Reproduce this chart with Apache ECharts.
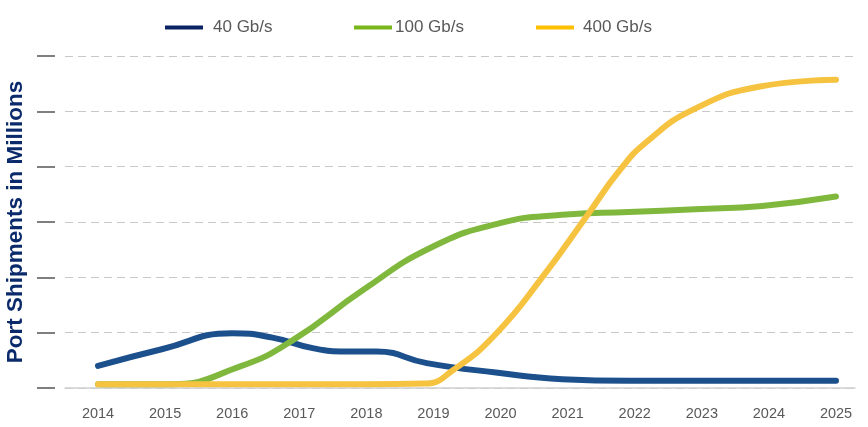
<!DOCTYPE html>
<html>
<head>
<meta charset="utf-8">
<script src="https://cdn.jsdelivr.net/npm/echarts@6/dist/echarts.min.js"></script>
<style>html,body{margin:0;padding:0;background:#fff}#c{width:868px;height:427px}</style>
</head>
<body>
<div id="c"></div>
<script>
// Tick labels (years)
const yearLabels = [2014, 2015, 2016, 2017, 2018, 2019, 2020, 2021, 2022, 2023, 2024, 2025];
const seriesNames = ['40 Gb/s', '100 Gb/s', '400 Gb/s'];

// 40 Gb/s curve (year position, millions-scale units)
const x40 = [2014.0, 2014.95, 2016.0, 2016.6, 2017.2, 2017.7, 2018.15, 2018.9, 2019.93, 2020.92, 2021.91, 2023.0, 2024.0, 2025.0];
const y40 = [0.40, 0.70, 0.99, 0.91, 0.72, 0.66, 0.66, 0.45, 0.28, 0.16, 0.13, 0.13, 0.13, 0.13];

// 100 Gb/s curve
const x100 = [2014.0, 2015.07, 2016.12, 2016.91, 2017.95, 2018.95, 2019.99, 2020.92, 2021.91, 2022.9, 2023.9, 2025.0];
const y100 = [0.07, 0.07, 0.39, 0.87, 1.77, 2.53, 2.98, 3.13, 3.18, 3.23, 3.29, 3.46];

// 400 Gb/s curve
const x400 = [2014.0, 2016.0, 2018.0, 2018.87, 2019.3, 2019.94, 2020.64, 2021.28, 2021.78, 2022.18, 2022.87, 2023.87, 2025.0];
const y400 = [0.07, 0.07, 0.07, 0.08, 0.33, 0.99, 2.03, 3.10, 3.94, 4.45, 5.03, 5.45, 5.57];

const lineColors = ['#1c508c', '#80b83e', '#f5c33f'];
const legendColors = ['#0b2263', '#78b61a', '#ffc000'];

function pairs(xs, ys) { return xs.map((x, i) => [x, ys[i]]); }

const font = "'Liberation Sans', Arial, sans-serif";
const chart = echarts.init(document.getElementById('c'), null, {renderer: 'canvas'});

const legendLefts = [160, 349, 531];
const legendPads = [5, -2, 4];

chart.setOption({
  animation: false,
  backgroundColor: '#ffffff',
  grid: {left: 65, right: 13, top: 56, bottom: 39, containLabel: false, outerBoundsMode: 'none'},
  legend: seriesNames.map((n, i) => ({
    left: legendLefts[i], top: 14,
    data: [{name: n, itemStyle: {color: legendColors[i]}}],
    icon: 'rect', itemWidth: 38, itemHeight: 4,
    textStyle: {fontFamily: font, fontSize: 17, color: '#595959', padding: [0, 0, 0, legendPads[i]]}
  })),
  xAxis: {
    type: 'value', min: 2013.508, max: 2025.283,
    axisLine: {show: true, lineStyle: {color: '#d0d0d0', width: 1.5}},
    axisTick: {show: false},
    splitLine: {show: false},
    axisLabel: {
      customValues: yearLabels, color: '#595959', fontFamily: font, fontSize: 14.5, margin: 18,
      formatter: v => String(Math.round(v))
    }
  },
  yAxis: {
    type: 'value', min: 0, max: 6, interval: 1, offset: 10,
    name: 'Port Shipments in Millions', nameLocation: 'middle', nameRotate: 90, nameGap: 28,
    nameTextStyle: {fontFamily: font, fontSize: 22.5, fontWeight: 'bold', color: '#0b2a6b'},
    axisLine: {show: false},
    axisTick: {show: true, length: 18, lineStyle: {color: '#7f7f7f', width: 2}},
    axisLabel: {show: false},
    splitLine: {show: true, lineStyle: {color: '#c8c8c8', width: 1.2, type: [8, 5]}}
  },
  series: [
    {name: seriesNames[0], type: 'line', data: pairs(x40, y40)},
    {name: seriesNames[1], type: 'line', data: pairs(x100, y100)},
    {name: seriesNames[2], type: 'line', data: pairs(x400, y400)}
  ].map((s, i) => Object.assign(s, {
    smooth: 0.5, showSymbol: false, symbol: 'none',
    lineStyle: {color: lineColors[i], width: 6, cap: 'round', join: 'round'},
    itemStyle: {color: lineColors[i]}, z: 2 + i
  }))
});
</script>
</body>
</html>
